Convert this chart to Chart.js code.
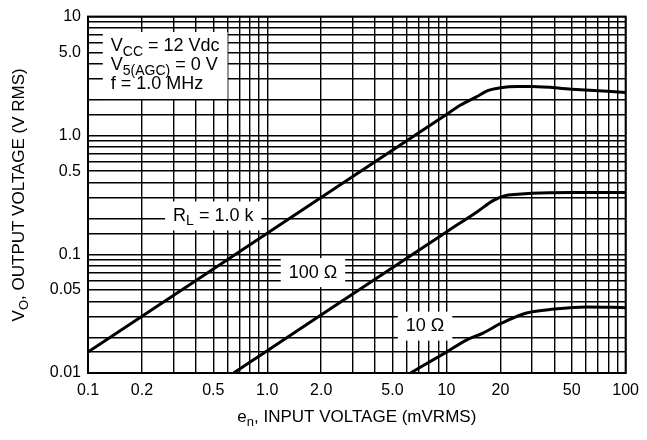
<!DOCTYPE html>
<html>
<head>
<meta charset="utf-8">
<script src="https://cdn.jsdelivr.net/npm/chart.js@4.4.1/dist/chart.umd.min.js"></script>
<style>
  html, body { margin: 0; padding: 0; background: #fff; }
  #wrap { width: 647px; height: 440px; }
</style>
</head>
<body>
<div id="wrap"><canvas id="grafico"></canvas></div>
<script>
// e_n (mVRMS) -> V_O (V RMS) for each load resistance
const entrada1k = [0.1, 1, 10, 12, 14.6, 17, 20, 25, 30, 50, 100];
const salida1k = [0.015, 0.15, 1.5, 1.8, 2.1, 2.38, 2.52, 2.58, 2.58, 2.45, 2.3];
const entrada100 = [0.65, 1, 10, 15, 18, 21, 25, 30, 50, 100];
const salida100 = [0.01, 0.0154, 0.154, 0.23, 0.28, 0.31, 0.32, 0.326, 0.33, 0.33];
const entrada10 = [6.3, 10, 13, 16, 20, 28, 40, 60, 100];
const salida10 = [0.01, 0.015, 0.019, 0.0217, 0.026, 0.032, 0.0345, 0.036, 0.0355];

const ticksX = [0.1, 0.2, 0.5, 1, 2, 5, 10, 20, 50, 100];
const textoX = ['0.1', '0.2', '0.5', '1.0', '2.0', '5.0', '10', '20', '50', '100'];
const ticksY = [0.01, 0.05, 0.1, 0.5, 1, 5, 10];
const textoY = ['0.01', '0.05', '0.1', '0.5', '1.0', '5.0', '10'];

const FUENTE = '"Liberation Sans", Arial, Helvetica, sans-serif';

// 1..9 lines in every decade, plus a few extra ones
function rejilla(min, max, extras) {
  const vals = [];
  const e0 = Math.round(Math.log10(min)), e1 = Math.round(Math.log10(max));
  for (let e = e0; e < e1; e++) {
    for (let m = 1; m < 10; m++) vals.push(+(m * Math.pow(10, e)).toPrecision(3));
  }
  vals.push(max);
  return vals.concat(extras || []).sort((a, b) => a - b);
}
const rejillaX = rejilla(0.1, 100);
const rejillaY = rejilla(0.01, 10, [0.015, 0.15, 1.5]);

function etiqueta(v, vals, textos) {
  const i = vals.findIndex(t => Math.abs(v - t) / t < 1e-6);
  return i >= 0 ? textos[i] : '';
}

function puntos(xs, ys) {
  return xs.map((x, i) => ({ x: x, y: ys[i] }));
}

// text with subscripts: partes = [[texto, esSubindice], ...]
function anchoRico(ctx, partes, tam) {
  let ancho = 0;
  partes.forEach(([t, s]) => {
    ctx.font = (s ? Math.round(tam * 0.75) : tam) + 'px ' + FUENTE;
    ancho += ctx.measureText(t).width;
  });
  return ancho;
}
function textoRico(ctx, partes, x, y, tam, alinear) {
  const ancho = anchoRico(ctx, partes, tam);
  let cx = alinear === 'center' ? x - ancho / 2 : x;
  ctx.textAlign = 'left';
  ctx.textBaseline = 'middle';
  ctx.fillStyle = '#000';
  partes.forEach(([t, s]) => {
    ctx.font = (s ? Math.round(tam * 0.75) : tam) + 'px ' + FUENTE;
    ctx.fillText(t, cx, s ? y + tam * 0.3 : y);
    cx += ctx.measureText(t).width;
  });
}

// notes inside the plot, anchored in data units
const notas = [
  { lineas: [
      [['V', 0], ['CC', 1], [' = 12 Vdc', 0]],
      [['V', 0], ['5(AGC)', 1], [' = 0 V', 0]],
      [['f = 1.0 MHz', 0]]
    ], x: 0.134, y: 5.6, alinear: 'left', alto: 19 },
  { lineas: [[['R', 0], ['L', 1], [' = 1.0 k', 0]]], x: 0.5, y: 0.21, alinear: 'center', alto: 19 },
  { lineas: [[['100 \u03A9', 0]]], x: 1.8, y: 0.07, alinear: 'center', alto: 19 },
  { lineas: [[['10 \u03A9', 0]]], x: 7.6, y: 0.0248, alinear: 'center', alto: 19 }
];
const TAM_NOTA = 18;

const notasPlugin = {
  id: 'notas',
  beforeDatasetsDraw(chart) {
    const ctx = chart.ctx, sx = chart.scales.x, sy = chart.scales.y;
    ctx.save();
    notas.forEach(n => {
      const px = sx.getPixelForValue(n.x), py = sy.getPixelForValue(n.y);
      const ancho = Math.max(...n.lineas.map(l => anchoRico(ctx, l, TAM_NOTA)));
      const izq = n.alinear === 'center' ? px - ancho / 2 : px;
      const alto = n.alto * n.lineas.length;
      ctx.fillStyle = '#fff';
      ctx.fillRect(izq - 8, py - n.alto / 2 - 5, ancho + 16, alto + 10);
    });
    ctx.restore();
  },
  afterDatasetsDraw(chart) {
    const ctx = chart.ctx, sx = chart.scales.x, sy = chart.scales.y, a = chart.chartArea;
    ctx.save();
    notas.forEach(n => {
      const px = sx.getPixelForValue(n.x), py = sy.getPixelForValue(n.y);
      n.lineas.forEach((l, i) => textoRico(ctx, l, px, py + i * n.alto, TAM_NOTA, n.alinear));
    });
    ctx.strokeStyle = '#000';
    ctx.lineWidth = 2;
    ctx.strokeRect(a.left, a.top, a.right - a.left, a.bottom - a.top);

    // axis titles
    textoRico(ctx, [['e', 0], ['n', 1], [', INPUT VOLTAGE (mVRMS)', 0]],
      (a.left + a.right) / 2, 417, 17, 'center');
    ctx.translate(19, (a.top + a.bottom) / 2);
    ctx.rotate(-Math.PI / 2);
    textoRico(ctx, [['V', 0], ['O', 1], [', OUTPUT VOLTAGE (V RMS)', 0]], 0, 0, 17, 'center');
    ctx.restore();
  }
};

const curva = (xs, ys) => ({
  data: puntos(xs, ys),
  borderColor: '#000',
  borderWidth: 3,
  pointRadius: 0,
  fill: false,
  cubicInterpolationMode: 'monotone'
});

const config = {
  type: 'line',
  data: {
    datasets: [curva(entrada1k, salida1k), curva(entrada100, salida100), curva(entrada10, salida10)]
  },
  options: {
    responsive: true,
    maintainAspectRatio: false,
    animation: false,
    layout: { padding: { top: 16, right: 16, left: 0, bottom: 0 } },
    plugins: { legend: { display: false }, tooltip: { enabled: false } },
    scales: {
      x: {
        type: 'logarithmic',
        min: 0.1,
        max: 100,
        afterBuildTicks: s => { s.ticks = rejillaX.map(v => ({ value: v })); },
        afterFit: s => { s.height = 67; },
        ticks: {
          autoSkip: false, maxRotation: 0, padding: 8, color: '#000',
          font: { family: FUENTE, size: 16 },
          callback: v => etiqueta(v, ticksX, textoX)
        },
        grid: { color: '#000', lineWidth: 1.4, drawTicks: false },
        border: { color: '#000', width: 2 }
      },
      y: {
        type: 'logarithmic',
        min: 0.01,
        max: 10,
        afterBuildTicks: s => { s.ticks = rejillaY.map(v => ({ value: v })); },
        afterFit: s => { s.width = 88; },
        ticks: {
          autoSkip: false, padding: 7, color: '#000',
          font: { family: FUENTE, size: 16 },
          callback: v => etiqueta(v, ticksY, textoY)
        },
        grid: { color: '#000', lineWidth: 1.4, drawTicks: false },
        border: { color: '#000', width: 2 }
      }
    }
  },
  plugins: [notasPlugin]
};

new Chart(document.getElementById('grafico'), config);
</script>
</body>
</html>
